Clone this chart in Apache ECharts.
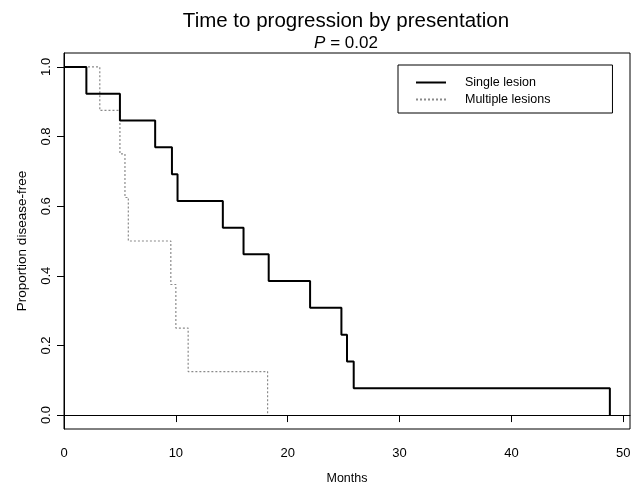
<!DOCTYPE html>
<html>
<head>
<meta charset="utf-8">
<script src="https://cdn.jsdelivr.net/npm/echarts@6/dist/echarts.min.js"></script>
<style>html,body{margin:0;padding:0;background:#fff;}#c{width:638px;height:483px;}</style>
</head>
<body>
<div id="c"></div>
<script>
// Kaplan-Meier steps
const singleTimes = [0, 2.0, 5.0, 8.15, 9.65, 10.15, 14.2, 16.05, 18.3, 22.0, 24.8, 25.3, 25.9, 48.8];
const singleSurv  = [1.0, 0.923, 0.846, 0.769, 0.692, 0.615, 0.538, 0.462, 0.385, 0.308, 0.231, 0.154, 0.077, 0.0];
const multiTimes  = [0, 3.2, 5.0, 5.45, 5.75, 9.55, 10.0, 11.1, 18.2];
const multiSurv   = [1.0, 0.875, 0.75, 0.625, 0.5, 0.375, 0.25, 0.125, 0.0];
const seriesNames = ['Single lesion', 'Multiple lesions'];
const xTicks = [0, 10, 20, 30, 40, 50];
const yTicks = [0.0, 0.2, 0.4, 0.6, 0.8, 1.0];

const FONT = 'Liberation Sans, Arial, Helvetica, sans-serif';
const zip = (a, b) => a.map((t, i) => [t, b[i]]);

const chart = echarts.init(document.getElementById('c'), null, {renderer: 'canvas'});
chart.setOption({
  animation: false,
  backgroundColor: '#fff',
  title: {
    text: 'Time to progression by presentation',
    subtext: '{i|P} = 0.02',
    left: 341, top: 6, textAlign: 'center',
    itemGap: 3,
    textStyle: {fontFamily: FONT, fontSize: 20.5, fontWeight: 'normal', color: '#000'},
    subtextStyle: {fontFamily: FONT, fontSize: 17, color: '#000',
      rich: {i: {fontFamily: FONT, fontSize: 17, fontStyle: 'italic', color: '#000'}}}
  },
  legend: {
    data: seriesNames,
    orient: 'vertical',
    left: 398, top: 65,
    padding: [11, 62, 7, 17],
    itemWidth: 30, itemHeight: 14, itemGap: 4,
    borderColor: '#000', borderWidth: 1, borderRadius: 0,
    itemStyle: {opacity: 0},
    textStyle: {fontFamily: FONT, fontSize: 12.5, color: '#000', padding: [0, 0, 0, 14]}
  },
  grid: {left: 64, right: 8, top: 53, bottom: 54, show: true, borderColor: '#000', borderWidth: 1,
    containLabel: false, outerBoundsMode: 'none'},
  xAxis: {
    type: 'value', min: 0, max: 50.6, interval: 10,
    name: 'Months', nameLocation: 'middle', nameGap: 43,
    nameTextStyle: {fontFamily: FONT, fontSize: 12.5, color: '#000'},
    axisLine: {show: true, lineStyle: {color: '#000', width: 1}},
    axisTick: {show: true, inside: false, length: 7, lineStyle: {color: '#000'}, customValues: xTicks},
    axisLabel: {fontFamily: FONT, fontSize: 13, color: '#000', margin: 18, customValues: xTicks},
    splitLine: {show: false}
  },
  yAxis: {
    type: 'value', min: -0.04, max: 1.04,
    name: 'Proportion disease-free', nameLocation: 'middle', nameRotate: 90, nameGap: 35,
    nameTextStyle: {fontFamily: FONT, fontSize: 13.5, color: '#000'},
    axisLine: {show: true, lineStyle: {color: '#000', width: 1}},
    axisTick: {show: true, inside: false, length: 7, lineStyle: {color: '#000'}, customValues: yTicks},
    axisLabel: {fontFamily: FONT, fontSize: 13, color: '#000', rotate: 90, margin: 11, customValues: yTicks,
      formatter: v => v.toFixed(1)},
    splitLine: {show: false}
  },
  series: [
    {
      name: seriesNames[0], type: 'line', step: 'end', symbol: 'none',
      data: zip(singleTimes, singleSurv),
      lineStyle: {color: '#000', width: 2, type: 'solid'},
      itemStyle: {color: '#000'}, z: 3
    },
    {
      name: seriesNames[1], type: 'line', step: 'end', symbol: 'none',
      data: zip(multiTimes, multiSurv),
      lineStyle: {color: '#8a8a8a', width: 1.2, type: [2, 2]},
      itemStyle: {color: '#8a8a8a'}, z: 2
    }
  ]
});
</script>
</body>
</html>
